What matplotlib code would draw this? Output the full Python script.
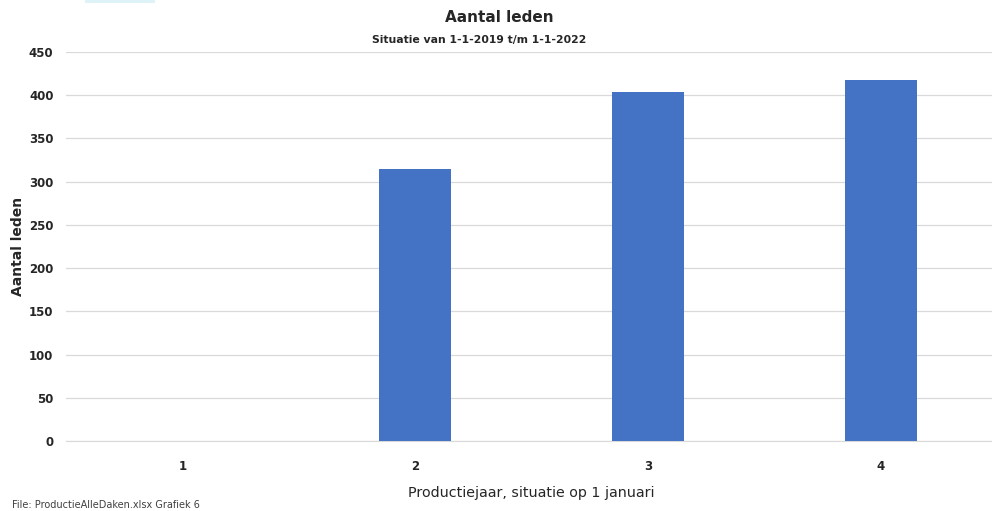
import matplotlib.pyplot as plt
from matplotlib.patches import Rectangle

# data
categories = [1, 2, 3, 4]
leden = [0, 315, 404, 418]
y_ticks = [0, 50, 100, 150, 200, 250, 300, 350, 400, 450]

plt.rcParams['font.family'] = ['Liberation Sans Narrow', 'DejaVu Sans']
text_col = '#262626'

fig = plt.figure(figsize=(9.92, 5.11), dpi=100)
fig.set_facecolor('white')

# axes runs slightly beyond the right edge, like the cropped original
ax = fig.add_axes([66/992, 70/511, 931/992, 389/511])
ax.bar(categories, leden, width=0.31, color='#4472C4', zorder=3)

ax.set_xlim(0.5, 4.5)
ax.set_ylim(0, 450)
ax.set_yticks(y_ticks)
ax.set_xticks(categories)
ax.grid(axis='y', color='#D9D9D9', linewidth=0.9, zorder=0)
ax.tick_params(axis='both', length=0, labelsize=8.5, colors=text_col)
ax.tick_params(axis='y', pad=9)
ax.tick_params(axis='x', pad=14)
for lbl in ax.get_xticklabels() + ax.get_yticklabels():
    lbl.set_fontweight('bold')
for s in ['top', 'right', 'left']:
    ax.spines[s].set_visible(False)
ax.spines['bottom'].set_color('#D9D9D9')

ax.set_ylabel('Aantal leden', fontsize=10, fontweight='bold', color=text_col, va='center')
ax.yaxis.set_label_coords(-48/931, 0.5)
ax.set_xlabel('Productiejaar, situatie op 1 januari', fontsize=10.3, color=text_col, labelpad=9)

fig.text(0.503, 0.965, 'Aantal leden', ha='center', va='center', fontsize=11,
         fontweight='bold', color=text_col)
fig.text(0.483, 0.921, 'Situatie van 1-1-2019 t/m 1-1-2022', ha='center', va='center',
         fontsize=7.8, fontweight='bold', color=text_col)
fig.text(12/992, 1 - 505/511, 'File: ProductieAlleDaken.xlsx Grafiek 6', ha='left', va='center',
         fontsize=7, color='#404040')

# faint strip in the top-left corner of the original screenshot
fig.patches.append(Rectangle((85/992, 1 - 3/511), 70/992, 3/511, transform=fig.transFigure,
                             facecolor='#DDF3F8', edgecolor='none'))

fig.savefig('out.png', dpi=100, facecolor='white')
